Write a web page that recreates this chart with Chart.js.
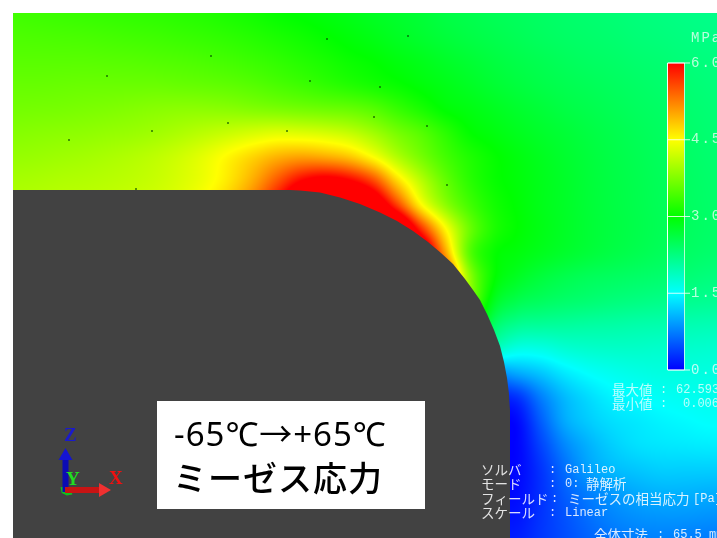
<!DOCTYPE html>
<html>
<head>
<meta charset="utf-8">
<style>
html, body { margin: 0; padding: 0; background: #fff; overflow: hidden; }
#wrap { width: 717px; height: 538px; position: relative; }
</style>
<script src="https://cdn.jsdelivr.net/npm/chart.js@4/dist/chart.umd.min.js"></script>
</head>
<body>
<div id="wrap"><canvas id="myChart" width="717" height="538"></canvas></div>
<script>
// sample positions of the stress field, left to right and top to bottom
const gridX = [13, 37, 61, 85, 109, 133, 157, 181, 205, 229, 253, 277, 301, 325, 349, 373, 397, 421, 445, 469, 493, 517, 541, 565, 589, 613, 637, 661, 685, 709, 733];
const gridY = [13, 37, 61, 85, 109, 133, 157, 181, 205, 229, 253, 277, 301, 325, 349, 373, 397, 421, 445, 469, 493, 517, 541];

// von Mises stress (MPa), one row per gridY
const stress00 = [3.38, 3.36, 3.34, 3.32, 3.30, 3.28, 3.26, 3.23, 3.20, 3.15, 3.10, 3.03, 2.98, 2.93, 2.87, 2.80, 2.74, 2.68, 2.60, 2.55, 2.50, 2.46, 2.42, 2.38, 2.35, 2.32, 2.28, 2.25, 2.22, 2.20, 2.18];
const stress01 = [3.45, 3.44, 3.43, 3.42, 3.40, 3.38, 3.36, 3.33, 3.30, 3.26, 3.21, 3.15, 3.09, 3.02, 2.95, 2.88, 2.80, 2.73, 2.66, 2.60, 2.55, 2.50, 2.45, 2.41, 2.38, 2.35, 2.31, 2.28, 2.25, 2.22, 2.20];
const stress02 = [3.52, 3.52, 3.52, 3.52, 3.51, 3.50, 3.48, 3.46, 3.43, 3.39, 3.34, 3.28, 3.21, 3.14, 3.06, 3.00, 2.92, 2.85, 2.77, 2.70, 2.63, 2.57, 2.52, 2.47, 2.43, 2.40, 2.36, 2.33, 2.29, 2.26, 2.24];
const stress03 = [3.60, 3.60, 3.61, 3.62, 3.62, 3.62, 3.62, 3.60, 3.58, 3.55, 3.50, 3.43, 3.36, 3.28, 3.20, 3.12, 3.04, 2.95, 2.87, 2.79, 2.71, 2.64, 2.58, 2.53, 2.49, 2.45, 2.41, 2.37, 2.33, 2.29, 2.26];
const stress04 = [3.68, 3.69, 3.70, 3.72, 3.74, 3.77, 3.80, 3.82, 3.82, 3.80, 3.76, 3.72, 3.68, 3.64, 3.60, 3.50, 3.32, 3.15, 2.98, 2.90, 2.82, 2.74, 2.67, 2.60, 2.55, 2.50, 2.45, 2.41, 2.36, 2.32, 2.29];
const stress05 = [3.78, 3.80, 3.82, 3.84, 3.87, 3.90, 3.95, 4.02, 4.10, 4.18, 4.26, 4.32, 4.30, 4.25, 4.15, 3.95, 3.70, 3.50, 3.25, 3.02, 2.92, 2.83, 2.75, 2.68, 2.61, 2.55, 2.49, 2.44, 2.39, 2.34, 2.31];
const stress06 = [3.88, 3.90, 3.93, 3.96, 4.00, 4.05, 4.12, 4.22, 4.36, 4.55, 4.75, 4.95, 5.05, 5.00, 4.85, 4.50, 4.05, 3.70, 3.40, 3.18, 3.03, 2.92, 2.82, 2.73, 2.65, 2.58, 2.52, 2.46, 2.41, 2.36, 2.33];
const stress07 = [3.98, 4.00, 4.03, 4.05, 4.08, 4.12, 4.18, 4.28, 4.42, 4.65, 5.00, 5.50, 6.00, 6.20, 6.05, 5.60, 4.75, 4.10, 3.60, 3.25, 3.05, 2.95, 2.85, 2.76, 2.67, 2.60, 2.54, 2.48, 2.43, 2.38, 2.35];
const stress08 = [4.05, 4.07, 4.10, 4.12, 4.15, 4.20, 4.26, 4.36, 4.55, 4.85, 5.30, 6.00, 6.80, 7.00, 7.00, 6.60, 5.65, 4.55, 3.85, 3.40, 3.12, 2.98, 2.86, 2.77, 2.68, 2.61, 2.55, 2.49, 2.44, 2.39, 2.36];
const stress09 = [4.10, 4.12, 4.15, 4.20, 4.25, 4.32, 4.42, 4.55, 4.70, 5.10, 5.50, 6.30, 7.00, 7.20, 7.20, 7.20, 7.00, 5.75, 4.55, 3.65, 3.18, 3.00, 2.88, 2.78, 2.69, 2.62, 2.56, 2.50, 2.45, 2.40, 2.37];
const stress10 = [4.10, 4.12, 4.15, 4.20, 4.25, 4.32, 4.42, 4.55, 4.75, 5.10, 5.50, 6.00, 6.80, 7.20, 7.20, 7.20, 7.20, 6.80, 5.10, 3.55, 3.05, 2.93, 2.83, 2.74, 2.66, 2.59, 2.53, 2.47, 2.42, 2.37, 2.34];
const stress11 = [4.10, 4.12, 4.15, 4.20, 4.25, 4.32, 4.42, 4.55, 4.75, 5.10, 5.50, 6.00, 6.80, 7.20, 7.20, 7.20, 7.20, 7.00, 5.80, 3.90, 3.05, 2.80, 2.65, 2.55, 2.48, 2.44, 2.40, 2.36, 2.32, 2.27, 2.24];
const stress12 = [4.10, 4.12, 4.15, 4.20, 4.25, 4.32, 4.42, 4.55, 4.75, 5.10, 5.50, 6.00, 6.80, 7.20, 7.20, 7.20, 7.20, 7.00, 5.60, 3.90, 2.85, 2.55, 2.45, 2.38, 2.33, 2.28, 2.24, 2.20, 2.17, 2.14, 2.12];
const stress13 = [4.10, 4.12, 4.15, 4.20, 4.25, 4.32, 4.42, 4.55, 4.75, 5.10, 5.50, 6.00, 6.80, 7.20, 7.20, 7.20, 7.20, 7.00, 5.00, 3.50, 2.45, 2.15, 2.10, 2.08, 2.05, 2.03, 2.00, 1.98, 1.96, 1.94, 1.92];
const stress14 = [2.20, 2.20, 2.20, 2.20, 2.20, 2.20, 2.20, 2.20, 2.20, 2.20, 2.20, 2.20, 2.20, 2.20, 2.20, 2.20, 2.20, 2.20, 2.20, 2.20, 1.90, 1.65, 1.65, 1.75, 1.80, 1.82, 1.82, 1.80, 1.80, 1.78, 1.76];
const stress15 = [1.50, 1.50, 1.50, 1.50, 1.50, 1.50, 1.50, 1.50, 1.50, 1.50, 1.50, 1.50, 1.50, 1.50, 1.50, 1.50, 1.50, 1.50, 1.50, 1.00, 0.85, 1.00, 1.17, 1.38, 1.52, 1.60, 1.65, 1.68, 1.68, 1.68, 1.66];
const stress16 = [0.20, 0.20, 0.20, 0.20, 0.20, 0.20, 0.20, 0.20, 0.20, 0.20, 0.20, 0.20, 0.20, 0.20, 0.20, 0.20, 0.20, 0.20, 0.20, 0.20, 0.20, 0.30, 0.75, 1.10, 1.30, 1.44, 1.50, 1.55, 1.58, 1.60, 1.58];
const stress17 = [0.00, 0.00, 0.00, 0.00, 0.00, 0.00, 0.00, 0.00, 0.00, 0.00, 0.00, 0.00, 0.00, 0.00, 0.00, 0.00, 0.00, 0.00, 0.00, 0.00, 0.00, 0.05, 0.55, 1.00, 1.20, 1.32, 1.38, 1.44, 1.48, 1.52, 1.52];
const stress18 = [0.00, 0.00, 0.00, 0.00, 0.00, 0.00, 0.00, 0.00, 0.00, 0.00, 0.00, 0.02, 0.02, 0.02, 0.02, 0.02, 0.02, 0.02, 0.02, 0.02, 0.02, 0.02, 0.40, 0.80, 1.05, 1.22, 1.32, 1.36, 1.38, 1.40, 1.40];
const stress19 = [0.00, 0.00, 0.00, 0.00, 0.00, 0.00, 0.00, 0.00, 0.00, 0.00, 0.00, 0.03, 0.03, 0.03, 0.03, 0.03, 0.03, 0.03, 0.03, 0.03, 0.03, 0.03, 0.30, 0.65, 0.95, 1.10, 1.17, 1.22, 1.22, 1.22, 1.22];
const stress20 = [0.00, 0.00, 0.00, 0.00, 0.00, 0.00, 0.00, 0.00, 0.00, 0.00, 0.00, 0.06, 0.06, 0.06, 0.06, 0.06, 0.06, 0.06, 0.06, 0.06, 0.06, 0.06, 0.28, 0.55, 0.75, 0.90, 1.00, 1.05, 1.05, 1.03, 1.02];
const stress21 = [0.00, 0.00, 0.00, 0.00, 0.00, 0.00, 0.00, 0.00, 0.00, 0.00, 0.00, 0.12, 0.12, 0.12, 0.12, 0.12, 0.12, 0.12, 0.12, 0.12, 0.12, 0.12, 0.30, 0.48, 0.65, 0.78, 0.85, 0.88, 0.88, 0.86, 0.85];
const stress22 = [0.00, 0.00, 0.00, 0.00, 0.00, 0.00, 0.00, 0.00, 0.00, 0.00, 0.00, 0.18, 0.18, 0.18, 0.18, 0.18, 0.18, 0.18, 0.18, 0.18, 0.18, 0.18, 0.32, 0.45, 0.58, 0.68, 0.74, 0.76, 0.74, 0.72, 0.70];
const stressRows = [stress00, stress01, stress02, stress03, stress04, stress05, stress06, stress07, stress08, stress09, stress10, stress11, stress12, stress13, stress14, stress15, stress16, stress17, stress18, stress19, stress20, stress21, stress22];

// outline of the part, which is drawn over the field
const partX = [13, 290, 300, 320, 340, 360, 380, 397, 413, 428, 441, 453, 465, 473, 480, 487, 494, 500, 504, 507, 509, 510, 510, 13, 13];
const partY = [190, 190, 190.5, 192.5, 197.5, 204, 212.5, 221, 231, 242, 253, 264, 279, 290, 300, 314, 330, 346, 362, 378, 394, 410, 538, 538, 190];

// mesh marks on the field
const markX = [107, 69, 152, 136, 211, 228, 287, 310, 327, 408, 380, 374, 427, 447];
const markY = [76, 140, 131, 189, 56, 123, 131, 81, 39, 36, 87, 117, 126, 185];

// colour bar
const barTicks = [0, 1.5, 3, 4.5, 6];
const barTickLabels = ["0.000", "1.500", "3.000", "4.500", "6.000"];
const barLabelOffset = 691;

const noteLines = ["-65℃→+65℃", "ミーゼス応力"];
const infoLabels = ["ソルバ", "モード", "フィールド", "スケール"];
const infoValues = ["Galileo", "0: 静解析", "ミーゼスの相当応力[Pa]", "Linear"];

const PALETTE = [[0, 0, 255], [0, 255, 255], [0, 255, 0], [255, 255, 0], [255, 0, 0]];

function stressColor(v) {
    const t = Math.max(0, Math.min(3.9999, v / 1.5));
    const i = Math.floor(t);
    const f = t - i;
    return PALETTE[i].map((c, k) => Math.round(c + (PALETTE[i + 1][k] - c) * f));
}

function catmull(a, b, c, d, t) {
    return 0.5 * (2 * b + (c - a) * t + (2 * a - 5 * b + 4 * c - d) * t * t + (3 * b - a - 3 * c + d) * t * t * t);
}

function fieldAt(gx, gy) {
    const row = Math.floor(gy), col = Math.floor(gx);
    const cell = (r, c) => stressRows[Math.max(0, Math.min(stressRows.length - 1, r))][Math.max(0, Math.min(gridX.length - 1, c))];
    const vals = [];
    for (let r = row - 1; r <= row + 2; r++) {
        vals.push(catmull(cell(r, col - 1), cell(r, col), cell(r, col + 1), cell(r, col + 2), gx - col));
    }
    return catmull(vals[0], vals[1], vals[2], vals[3], gy - row);
}

// paints the field dataset as a smooth image placed by the x and y scales
const fieldPlugin = {
    id: "fieldPlugin",
    beforeDatasetsDraw(chart) {
        const { ctx, chartArea: a, scales: { x, y } } = chart;
        const w = Math.round(a.right - a.left), h = Math.round(a.bottom - a.top);
        const off = document.createElement("canvas");
        off.width = w;
        off.height = h;
        const octx = off.getContext("2d");
        const img = octx.createImageData(w, h);
        const stepX = gridX[1] - gridX[0], stepY = gridY[1] - gridY[0];
        for (let py = 0; py < h; py++) {
            const gy = (y.getValueForPixel(a.top + py + 0.5) - gridY[0]) / stepY;
            for (let px = 0; px < w; px++) {
                const gx = (x.getValueForPixel(a.left + px + 0.5) - gridX[0]) / stepX;
                const c = stressColor(fieldAt(gx, gy));
                const o = (py * w + px) * 4;
                img.data[o] = c[0];
                img.data[o + 1] = c[1];
                img.data[o + 2] = c[2];
                img.data[o + 3] = 255;
            }
        }
        octx.putImageData(img, 0, 0);
        ctx.drawImage(off, a.left, a.top);
    }
};

function put(ctx, text, x, y, font, color, spacing) {
    ctx.font = font;
    ctx.fillStyle = color;
    ctx.letterSpacing = (spacing || 0) + "px";
    ctx.textBaseline = "middle";
    ctx.textAlign = "left";
    ctx.fillText(text, x, y);
    ctx.letterSpacing = "0px";
}

const textPlugin = {
    id: "textPlugin",
    afterDatasetsDraw(chart) {
        const { ctx, scales: { legendY } } = chart;
        const mono = "12px 'Liberation Mono'";
        const jp = "13.5px 'Noto Sans CJK JP'";
        const pale = "rgba(255,255,255,0.72)";
        const bright = "rgba(255,255,255,0.85)";
        put(ctx, "MPa", 691, 38, "14px 'Liberation Mono'", pale, 2);
        barTicks.forEach((t, i) => {
            put(ctx, barTickLabels[i], barLabelOffset, legendY.getPixelForValue(t), "14px 'Liberation Mono'", pale, 2);
        });
        put(ctx, "最大値", 612, 390, jp, pale);
        put(ctx, "最小値", 612, 404, jp, pale);
        put(ctx, ":", 660, 390, mono, pale);
        put(ctx, ":", 660, 404, mono, pale);
        put(ctx, "62.593", 676, 390, mono, pale);
        put(ctx, "0.006", 683, 404, mono, pale);

        const rows = [470, 484, 499, 513];
        infoLabels.forEach((t, i) => put(ctx, t, 481, rows[i], jp, bright));
        [0, 1, 3].forEach(i => put(ctx, ":", 549, rows[i], mono, bright));
        put(ctx, ":", 551, rows[2], mono, bright);
        put(ctx, infoValues[0], 565, rows[0], mono, bright);
        put(ctx, "0:", 565, rows[1], mono, bright);
        put(ctx, "静解析", 586, rows[1], jp, bright);
        put(ctx, "ミーゼスの相当応力", 568, rows[2], jp, bright);
        put(ctx, "[Pa]", 693, rows[2], mono, bright);
        put(ctx, infoValues[3], 565, rows[3], mono, bright);
        put(ctx, "全体寸法", 594, 535, jp, bright);
        put(ctx, ":", 657, 535, mono, bright);
        put(ctx, "65.5 mm", 673, 535, mono, bright);

        put(ctx, noteLines[0], 174, 437, "33px 'Noto Sans', 'Noto Sans CJK JP'", "#000", 1);
        put(ctx, noteLines[1], 173, 478, "500 34px 'Noto Sans CJK JP'", "#000", 1);

        const serif = "bold 19px 'Liberation Serif'";
        put(ctx, "Z", 64, 436, serif, "#1a1acc");
        put(ctx, "Y", 66, 480, serif, "#22dd22");
        put(ctx, "X", 109, 479, serif, "#ee1111");
    }
};

const pairs = (xs, ys) => xs.map((x, i) => ({ x, y: ys[i] }));

function barGradient(context) {
    const chart = context.chart;
    if (!chart.chartArea) return "#00ff00";
    const s = chart.scales.legendY;
    const g = chart.ctx.createLinearGradient(0, s.getPixelForValue(0), 0, s.getPixelForValue(6));
    PALETTE.forEach((c, i) => g.addColorStop(i / 4, `rgb(${c[0]},${c[1]},${c[2]})`));
    return g;
}

const fieldPoints = [];
stressRows.forEach((row, r) => row.forEach((v, c) => fieldPoints.push({ x: gridX[c], y: gridY[r], v })));

const plain = { showLine: true, pointRadius: 0, borderWidth: 0, fill: false };

// listed from bottom to top, the order numbers are set below
const datasets = [
    { label: "Stress field", data: fieldPoints, pointRadius: 0 },
    { label: "Mesh marks", data: pairs(markX, markY), pointRadius: 1, borderWidth: 0, backgroundColor: "rgba(0,70,0,0.75)" },
    { ...plain, label: "Part", data: pairs(partX, partY), fill: "shape", backgroundColor: "#424242" },
    { ...plain, label: "Note box", data: pairs([157, 425, 425, 157, 157], [401, 401, 509, 509, 401]), fill: "shape", backgroundColor: "#ffffff" },
    { ...plain, label: "Bar", yAxisID: "legendY", data: pairs([676, 676], [0, 6]), borderWidth: 16, borderColor: barGradient },
    { ...plain, label: "Bar frame", yAxisID: "legendY", data: pairs([667.5, 684.5, 684.5, 667.5, 667.5], [0, 0, 6, 6, 0]), borderWidth: 1, borderColor: "rgba(255,255,255,0.7)" },
    ...barTicks.map(t => ({ ...plain, label: "Tick " + t, yAxisID: "legendY", data: pairs([668, 690], [t, t]), borderWidth: 1, borderColor: "rgba(255,255,255,0.8)" })),
    { ...plain, label: "Y axis mark", data: pairs([62, 63, 67, 72], [487, 492, 494, 493]), borderWidth: 3, borderColor: "#10c020" },
    { ...plain, label: "Z axis", data: pairs([65.5, 65.5], [492, 456]), borderWidth: 6, borderColor: "#0b0bb4" },
    { label: "Z cone", data: pairs([65.5], [456]), pointStyle: "triangle", pointRadius: 8, rotation: 0, borderWidth: 0, backgroundColor: "#1414d2" },
    { ...plain, label: "X axis", data: pairs([65, 101], [490, 490]), borderWidth: 6, borderColor: "#c81414" },
    { label: "X cone", data: pairs([103], [490]), pointStyle: "triangle", pointRadius: 8, rotation: 90, borderWidth: 0, backgroundColor: "#f03030" }
];
datasets.forEach((d, i) => { d.order = datasets.length - i; });

new Chart(document.getElementById("myChart"), {
    type: "scatter",
    data: { datasets },
    plugins: [fieldPlugin, textPlugin],
    options: {
        responsive: false,
        animation: false,
        layout: { autoPadding: false, padding: { left: 13, top: 13, right: 0, bottom: 0 } },
        plugins: { legend: { display: false }, tooltip: { enabled: false }, title: { display: false } },
        events: [],
        scales: {
            x: { type: "linear", display: false, min: 13, max: 717 },
            y: { type: "linear", display: false, min: 13, max: 538, reverse: true },
            legendY: { type: "linear", display: false, min: -3.283, max: 6.977 }
        }
    }
});
</script>
</body>
</html>
